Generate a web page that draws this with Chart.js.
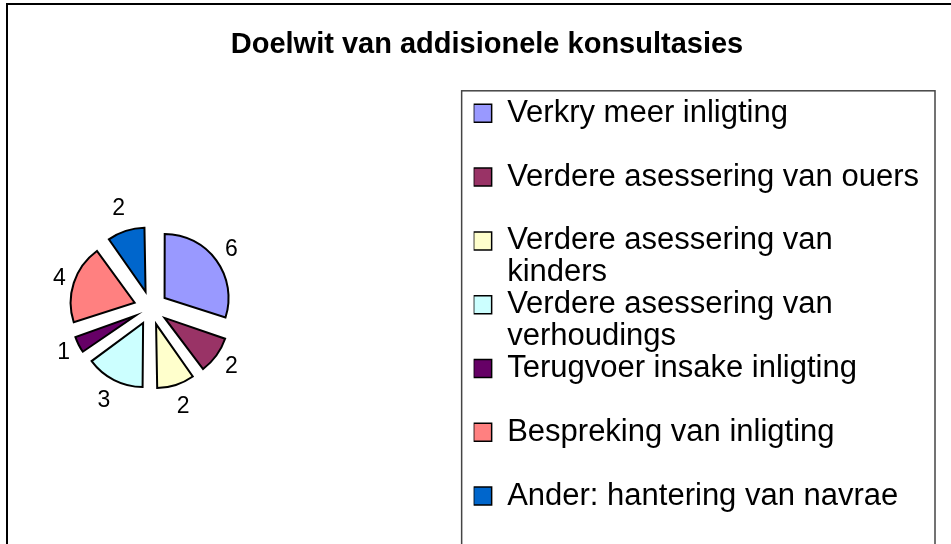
<!DOCTYPE html>
<html>
<head>
<meta charset="utf-8">
<script src="https://cdn.jsdelivr.net/npm/chart.js@4.4.1/dist/chart.umd.min.js"></script>
<style>
  html, body { margin: 0; padding: 0; background: #fff; }
  canvas { display: block; }
</style>
</head>
<body>
<canvas id="pie" width="951" height="544"></canvas>
<script>
// data
const categories = [
  'Verkry meer inligting',
  'Verdere asessering van ouers',
  'Verdere asessering van kinders',
  'Verdere asessering van verhoudings',
  'Terugvoer insake inligting',
  'Bespreking van inligting',
  'Ander: hantering van navrae'
];
const counts = [6, 2, 2, 3, 1, 4, 2];
const sliceColors = ['#9999FF', '#993366', '#FFFFCC', '#CCFFFF', '#660066', '#FF8080', '#0066CC'];
const titleText = 'Doelwit van addisionele konsultasies';

const pieRadius = 64;
const explode = 68;      // chart.js shifts a slice by offset/4
const legendSize = 31;
const wrapWidth = 425;

Chart.defaults.font.family = "'Liberation Sans', Arial, sans-serif";
Chart.defaults.color = '#000';

// empty layout boxes to push the pie to the left and the legend in from the edge
function spacer(w, weight) {
  return {
    position: 'right',
    weight: weight,
    fullSize: false,
    options: { display: false },
    isHorizontal() { return false; },
    update(maxW, maxH) { this.width = w; this.height = maxH; },
    draw() {}
  };
}

const spacers = {
  id: 'spacers',
  beforeInit(chart) {
    Chart.layouts.addBox(chart, spacer(195, 1));
    Chart.layouts.addBox(chart, spacer(22, 1500));
  }
};

// frame and legend border
const frame = {
  id: 'frame',
  beforeDraw(chart) {
    const ctx = chart.ctx;
    ctx.save();
    ctx.fillStyle = '#fff';
    ctx.fillRect(0, 0, chart.width, chart.height);
    ctx.strokeStyle = '#000';
    ctx.lineWidth = 2;
    ctx.beginPath();
    ctx.moveTo(7, chart.height);
    ctx.lineTo(7, 4);
    ctx.lineTo(chart.width, 4);
    ctx.stroke();
    const lg = chart.legend;
    ctx.strokeStyle = '#444';
    ctx.lineWidth = 1.5;
    ctx.strokeRect(lg.left - 12, lg.top - 7, lg.width + 18, chart.height);
    ctx.restore();
  }
};

// keep the small exploded slices the same radius as the big ones
const evenRadius = {
  id: 'evenRadius',
  afterDatasetsUpdate(chart) {
    chart.getDatasetMeta(0).data.forEach(arc => {
      const fix = 1 - Math.sin(Math.min(Math.PI, arc.circumference));
      arc.outerRadius = pieRadius - (explode / 4) * fix;
    });
  }
};

// value labels outside the slices
const valueLabels = {
  id: 'valueLabels',
  afterDatasetsDraw(chart) {
    const ctx = chart.ctx;
    const meta = chart.getDatasetMeta(0);
    ctx.save();
    ctx.font = "23px 'Liberation Sans', Arial, sans-serif";
    ctx.fillStyle = '#000';
    ctx.textAlign = 'center';
    ctx.textBaseline = 'middle';
    meta.data.forEach((arc, i) => {
      const p = arc.getProps(['x', 'y', 'startAngle', 'endAngle'], true);
      const mid = (p.startAngle + p.endAngle) / 2;
      const dx = Math.cos(mid), dy = Math.sin(mid);
      const dist = pieRadius + explode / 4 + 11 + 13 * Math.abs(dy);
      ctx.fillText(String(counts[i]), p.x + dx * dist, p.y + dy * dist);
    });
    ctx.restore();
  }
};

function wrapLabel(ctx, text) {
  const words = text.split(' ');
  const lines = [];
  let line = '';
  words.forEach(w => {
    const test = line ? line + ' ' + w : w;
    if (line && ctx.measureText(test).width > wrapWidth) {
      lines.push(line);
      line = w;
    } else {
      line = test;
    }
  });
  lines.push(line);
  return lines;
}

const myChart = new Chart(document.getElementById('pie'), {
  type: 'pie',
  data: {
    labels: categories,
    datasets: [{
      data: counts,
      backgroundColor: sliceColors,
      borderColor: '#000',
      borderWidth: 2,
      borderJoinStyle: 'miter',
      offset: explode,
      hoverOffset: 0,
      radius: pieRadius
    }]
  },
  options: {
    responsive: false,
    animation: false,
    events: [],
    layout: { padding: { left: 23, right: 0, top: 0, bottom: 26 } },
    plugins: {
      title: {
        display: true,
        text: titleText,
        color: '#000',
        font: { size: 29, weight: 'bold' },
        padding: { top: 28, bottom: 35 }
      },
      legend: {
        position: 'right',
        align: 'start',
        fullSize: false,
        labels: {
          boxWidth: 18,
          boxHeight: 18,
          padding: 0,
          color: '#000',
          font: { size: legendSize, lineHeight: 1.029 },
          generateLabels(chart) {
            const ctx = chart.ctx;
            ctx.save();
            ctx.font = legendSize + "px 'Liberation Sans', Arial, sans-serif";
            const items = categories.map((c, i) => {
              const lines = wrapLabel(ctx, c);
              // Excel gives every entry the same row height
              if (i < categories.length - 1) {
                while (lines.length < 2) lines.push('');
              }
              return {
                text: lines,
                fillStyle: sliceColors[i],
                strokeStyle: '#000',
                lineWidth: 1.5,
                hidden: false,
                index: i
              };
            });
            ctx.restore();
            return items;
          }
        }
      },
      tooltip: { enabled: false }
    }
  },
  plugins: [spacers, frame, evenRadius, valueLabels]
});
</script>
</body>
</html>
